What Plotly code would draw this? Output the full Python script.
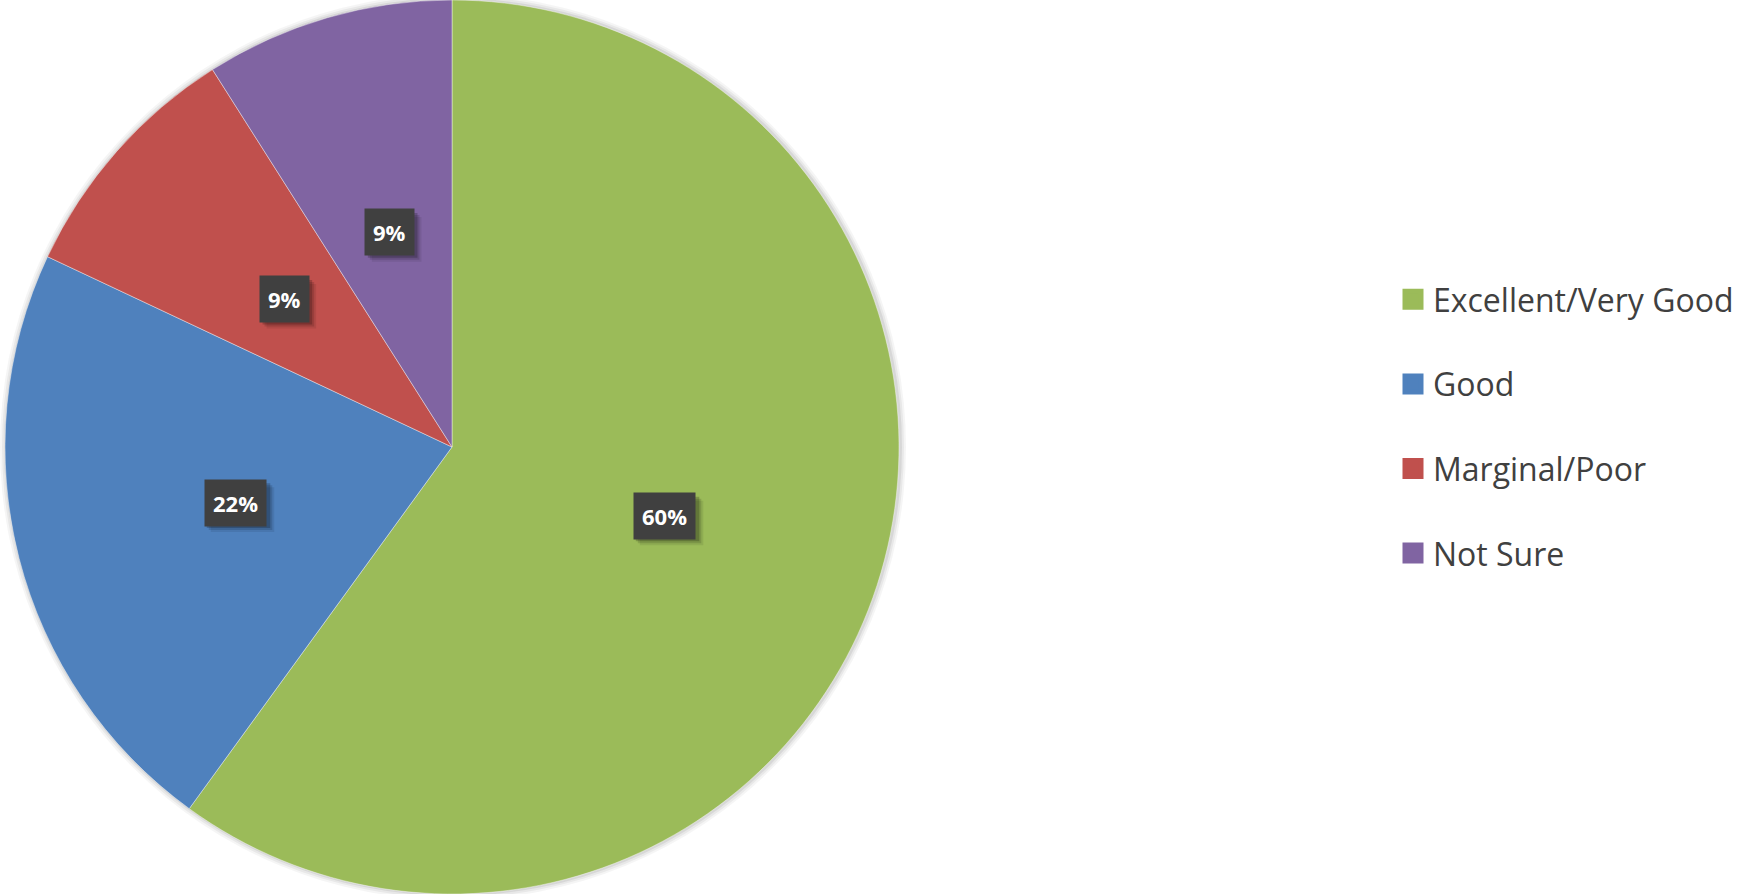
import math
import plotly.graph_objects as go

# Survey rating shares (percent)
categories = ["Excellent/Very Good", "Good", "Marginal/Poor", "Not Sure"]
shares = [60, 22, 9, 9]
colors = ["#9BBB59", "#4F81BD", "#C0504D", "#8064A2"]

W, H = 1745, 894
dom_x = [0.0, 904 / W]
dom_y = [0.0, 1.0]
LABEL_SIZE = 22

fig = go.Figure()

fig.add_trace(go.Pie(
    labels=categories,
    values=shares,
    sort=False,
    direction="clockwise",
    rotation=0,
    marker=dict(colors=colors, line=dict(color="rgba(255,255,255,0.5)", width=0.8)),
    textinfo="none",
    hoverinfo="label+percent",
    showlegend=False,
    domain=dict(x=dom_x, y=dom_y),
))

# Legend entries (square swatches)
for i, (name, col) in enumerate(zip(categories, colors)):
    fig.add_trace(go.Scatter(
        x=[None], y=[None], mode="markers", name=name,
        legendgroup=f"g{i}",
        marker=dict(symbol="square", size=16, color=col,
                    line=dict(color=col, width=5)),
    ))

# Percentage labels in dark boxes, at half radius along each slice's mid-angle
cx = (dom_x[0] + dom_x[1]) / 2
cy = (dom_y[0] + dom_y[1]) / 2
r_px = min((dom_x[1] - dom_x[0]) * W, (dom_y[1] - dom_y[0]) * H) / 2
total = sum(shares)
cum = 0.0
for v in shares:
    theta = 2 * math.pi * (cum + v / 2) / total
    cum += v
    ax = cx + 0.5 * r_px * math.sin(theta) / W
    ay = cy + 0.5 * r_px * math.cos(theta) / H
    label = f"{round(100 * v / total)}%"
    # approximate box size of the label, for its drop shadow
    half_w = (16 + LABEL_SIZE * (0.63 * (len(label) - 1) + 0.9)) / 2
    half_h = (16 + LABEL_SIZE * 1.3) / 2
    for k, a in ((7, 0.08), (5, 0.13), (3, 0.2)):
        fig.add_shape(
            type="rect", xref="paper", yref="paper",
            xsizemode="pixel", ysizemode="pixel", xanchor=ax, yanchor=ay,
            x0=-half_w + k, x1=half_w + k, y0=-half_h - k, y1=half_h - k,
            fillcolor=f"rgba(0,0,0,{a})", line=dict(width=0), layer="above",
        )
    fig.add_annotation(
        x=ax, y=ay, xref="paper", yref="paper", showarrow=False,
        xanchor="center", yanchor="middle", borderpad=8,
        text=f"<b>{label}</b>",
        font=dict(family="Open Sans", size=LABEL_SIZE, color="white"),
        bgcolor="#404040",
    )

# faint halo around the pie
for k, a in ((6, 0.04), (4, 0.05), (2, 0.07)):
    rx = (r_px + k) / W
    ry = (r_px + k) / H
    fig.add_shape(type="circle", xref="paper", yref="paper",
                  x0=cx - rx + 1 / W, x1=cx + rx + 1 / W, y0=cy - ry, y1=cy + ry,
                  fillcolor=f"rgba(0,0,0,{a})", line=dict(width=0), layer="below")

fig.update_layout(
    width=W, height=H,
    margin=dict(l=0, r=0, t=0, b=0),
    paper_bgcolor="white",
    plot_bgcolor="white",
    xaxis=dict(visible=False), yaxis=dict(visible=False),
    legend=dict(
        x=1393 / W, y=1 - 272 / H, xanchor="left", yanchor="top",
        font=dict(family="Open Sans", size=32, color="#404040"),
        tracegroupgap=40, itemwidth=30,
        bgcolor="rgba(0,0,0,0)",
    ),
    showlegend=True,
)

fig.write_html("out.html")
